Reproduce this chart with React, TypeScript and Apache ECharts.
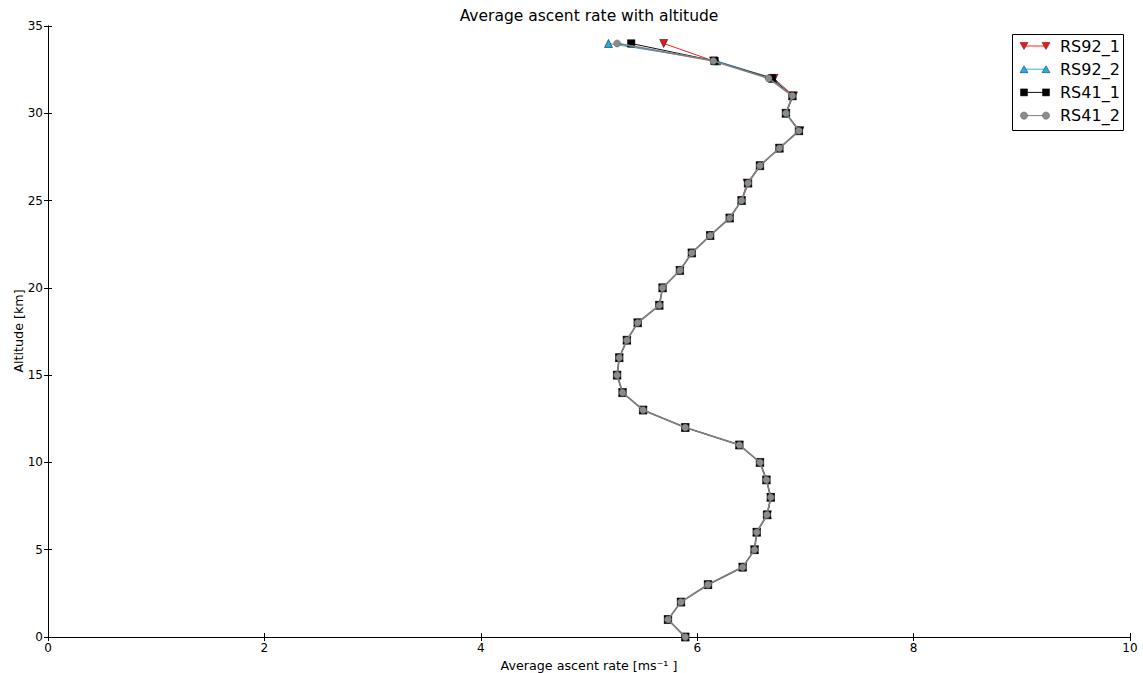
import React, { useEffect, useRef } from "react";
import * as echarts from "echarts";

const altitudes = [0,1,2,3,4,5,6,7,8,9,10,11,12,13,14,15,16,17,18,19,20,21,22,23,24,25,26,27,28,29,30,31,32,33,34];

const rs92_1 = [5.89,5.73,5.85,6.10,6.42,6.53,6.55,6.65,6.68,6.64,6.58,6.39,5.89,5.50,5.31,5.26,5.28,5.35,5.45,5.65,5.68,5.84,5.95,6.12,6.30,6.41,6.46,6.58,6.76,6.95,6.82,6.89,6.71,6.15,5.69];
const rs92_2 = [5.89,5.73,5.85,6.10,6.42,6.53,6.55,6.65,6.68,6.64,6.58,6.39,5.89,5.50,5.31,5.26,5.28,5.35,5.45,5.65,5.68,5.84,5.95,6.12,6.30,6.41,6.47,6.58,6.76,6.94,6.82,6.88,6.70,6.18,5.18];
const rs41_1 = [5.89,5.73,5.85,6.10,6.42,6.53,6.55,6.645,6.68,6.64,6.58,6.39,5.89,5.50,5.31,5.26,5.28,5.35,5.45,5.65,5.68,5.84,5.95,6.12,6.30,6.41,6.47,6.58,6.76,6.94,6.82,6.88,6.69,6.16,5.39];
const rs41_2 = [5.89,5.73,5.85,6.10,6.42,6.53,6.55,6.645,6.68,6.64,6.58,6.39,5.89,5.50,5.31,5.26,5.28,5.35,5.45,5.65,5.68,5.84,5.95,6.12,6.30,6.41,6.47,6.58,6.76,6.94,6.82,6.88,6.66,6.15,5.26];

const seriesNames = ["RS92_1", "RS92_2", "RS41_1", "RS41_2"];
const seriesValues = [rs92_1, rs92_2, rs41_1, rs41_2];
const xTicks = { min: 0, max: 10, interval: 2 };
const yTicks = { min: 0, max: 35, interval: 5 };
const titleText = "Average ascent rate with altitude";
const xName = "Average ascent rate [ms\u207B\u00B9 ]";
const yName = "Altitude [km]";

const FONT = "DejaVu Sans";
const colors = ["#e8191c", "#1eaee0", "#000000", "#8c8c8c"];
const lineColors = ["#ff2020", "#2ab4e6", "#111111", "#808080"];
const lineWidths = [1, 1, 1, 1.8];
const symbols = ["triangle", "triangle", "rect", "circle"];
const rotates = [180, 0, 0, 0];
const sizes = [8, 8, 7.5, 7];

const GRID = { left: 48, right: 13, top: 26, bottom: 36 };

function legendMarker(kind: number, cx: number, cy: number) {
  const fill = colors[kind];
  const stroke = "#000";
  if (kind === 0) {
    return { type: "polygon", shape: { points: [[cx - 4, cy - 3.5], [cx + 4, cy - 3.5], [cx, cy + 3.5]] }, style: { fill, stroke: "#700", lineWidth: 0.5 } };
  }
  if (kind === 1) {
    return { type: "polygon", shape: { points: [[cx - 4, cy + 3.5], [cx + 4, cy + 3.5], [cx, cy - 3.5]] }, style: { fill, stroke: "#124", lineWidth: 0.5 } };
  }
  if (kind === 2) {
    return { type: "rect", shape: { x: cx - 3.5, y: cy - 3.5, width: 7, height: 7 }, style: { fill, stroke, lineWidth: 0.5 } };
  }
  return { type: "circle", shape: { cx, cy, r: 3.6 }, style: { fill, stroke: "#555", lineWidth: 0.5 } };
}

export default function App() {
  const ref = useRef<HTMLDivElement>(null);
  useEffect(() => {
    document.body.style.margin = "0";
    if (!ref.current) return;
    const chart = echarts.init(ref.current, undefined, { renderer: "svg" });

    const legendItems: any[] = [
      { type: "rect", shape: { x: 1012.5, y: 34.5, width: 111, height: 96 }, style: { fill: "#fff", stroke: "#000", lineWidth: 1 }, z: 100 },
    ];
    seriesNames.forEach((name, i) => {
      const cy = 46 + i * 23.2;
      legendItems.push({ type: "line", shape: { x1: 1024, y1: cy, x2: 1046, y2: cy }, style: { stroke: lineColors[i], lineWidth: 1 }, z: 101 });
      legendItems.push({ ...legendMarker(i, 1024, cy), z: 102 });
      legendItems.push({ ...legendMarker(i, 1046, cy), z: 102 });
      legendItems.push({ type: "text", x: 1060, y: cy, style: { text: name, fontFamily: FONT, fontSize: 16, fill: "#000", textVerticalAlign: "middle", textAlign: "left" }, z: 102 });
    });

    const axisCommon = {
      type: "value" as const,
      splitLine: { show: false },
      axisLine: { show: true, lineStyle: { color: "#000", width: 1 } },
      axisTick: { show: true, inside: true, length: 4, lineStyle: { color: "#000" } },
    };

    const option: any = {
      animation: false,
      backgroundColor: "#fff",
      grid: { ...GRID, containLabel: false, outerBoundsMode: "none" },
      graphic: [
        { type: "text", x: 589, y: 16, style: { text: titleText, fontFamily: FONT, fontSize: 15.5, fill: "#000", textAlign: "center", textVerticalAlign: "middle" } },
        { type: "text", x: 18, y: 331, rotation: Math.PI / 2, style: { text: yName, fontFamily: FONT, fontSize: 12.7, fill: "#000", textAlign: "center", textVerticalAlign: "middle" } },
        ...legendItems,
      ],
      xAxis: [
        {
          ...axisCommon,
          position: "bottom",
          min: xTicks.min,
          max: xTicks.max,
          interval: xTicks.interval,
          name: xName,
          nameLocation: "middle",
          nameGap: 21,
          nameTextStyle: { fontFamily: FONT, fontSize: 12.7, color: "#000" },
          axisLabel: { fontFamily: FONT, fontSize: 12, color: "#000", margin: 5 },
        },
        {
          ...axisCommon,
          position: "top",
          min: xTicks.min,
          max: xTicks.max,
          interval: xTicks.interval,
          axisLabel: { show: false },
        },
      ],
      yAxis: [
        {
          ...axisCommon,
          position: "left",
          min: yTicks.min,
          max: yTicks.max,
          interval: yTicks.interval,
          axisLabel: { fontFamily: FONT, fontSize: 12, color: "#000", margin: 5 },
        },
        {
          ...axisCommon,
          position: "right",
          min: yTicks.min,
          max: yTicks.max,
          interval: yTicks.interval,
          axisLabel: { show: false },
        },
      ],
      series: seriesNames.map((name, i) => ({
        name,
        type: "line",
        xAxisIndex: 0,
        yAxisIndex: 0,
        data: seriesValues[i].map((v, k) => [v, altitudes[k]]),
        symbol: symbols[i],
        symbolSize: sizes[i],
        symbolRotate: rotates[i],
        showAllSymbol: true,
        lineStyle: { color: lineColors[i], width: lineWidths[i] },
        itemStyle: { color: colors[i], borderColor: i === 3 ? "#555" : "#000", borderWidth: 0.5 },
        z: 2 + i,
      })),
    };
    chart.setOption(option);
    return () => chart.dispose();
  }, []);
  return <div ref={ref} style={{ width: 1143, height: 673 }} />;
}
